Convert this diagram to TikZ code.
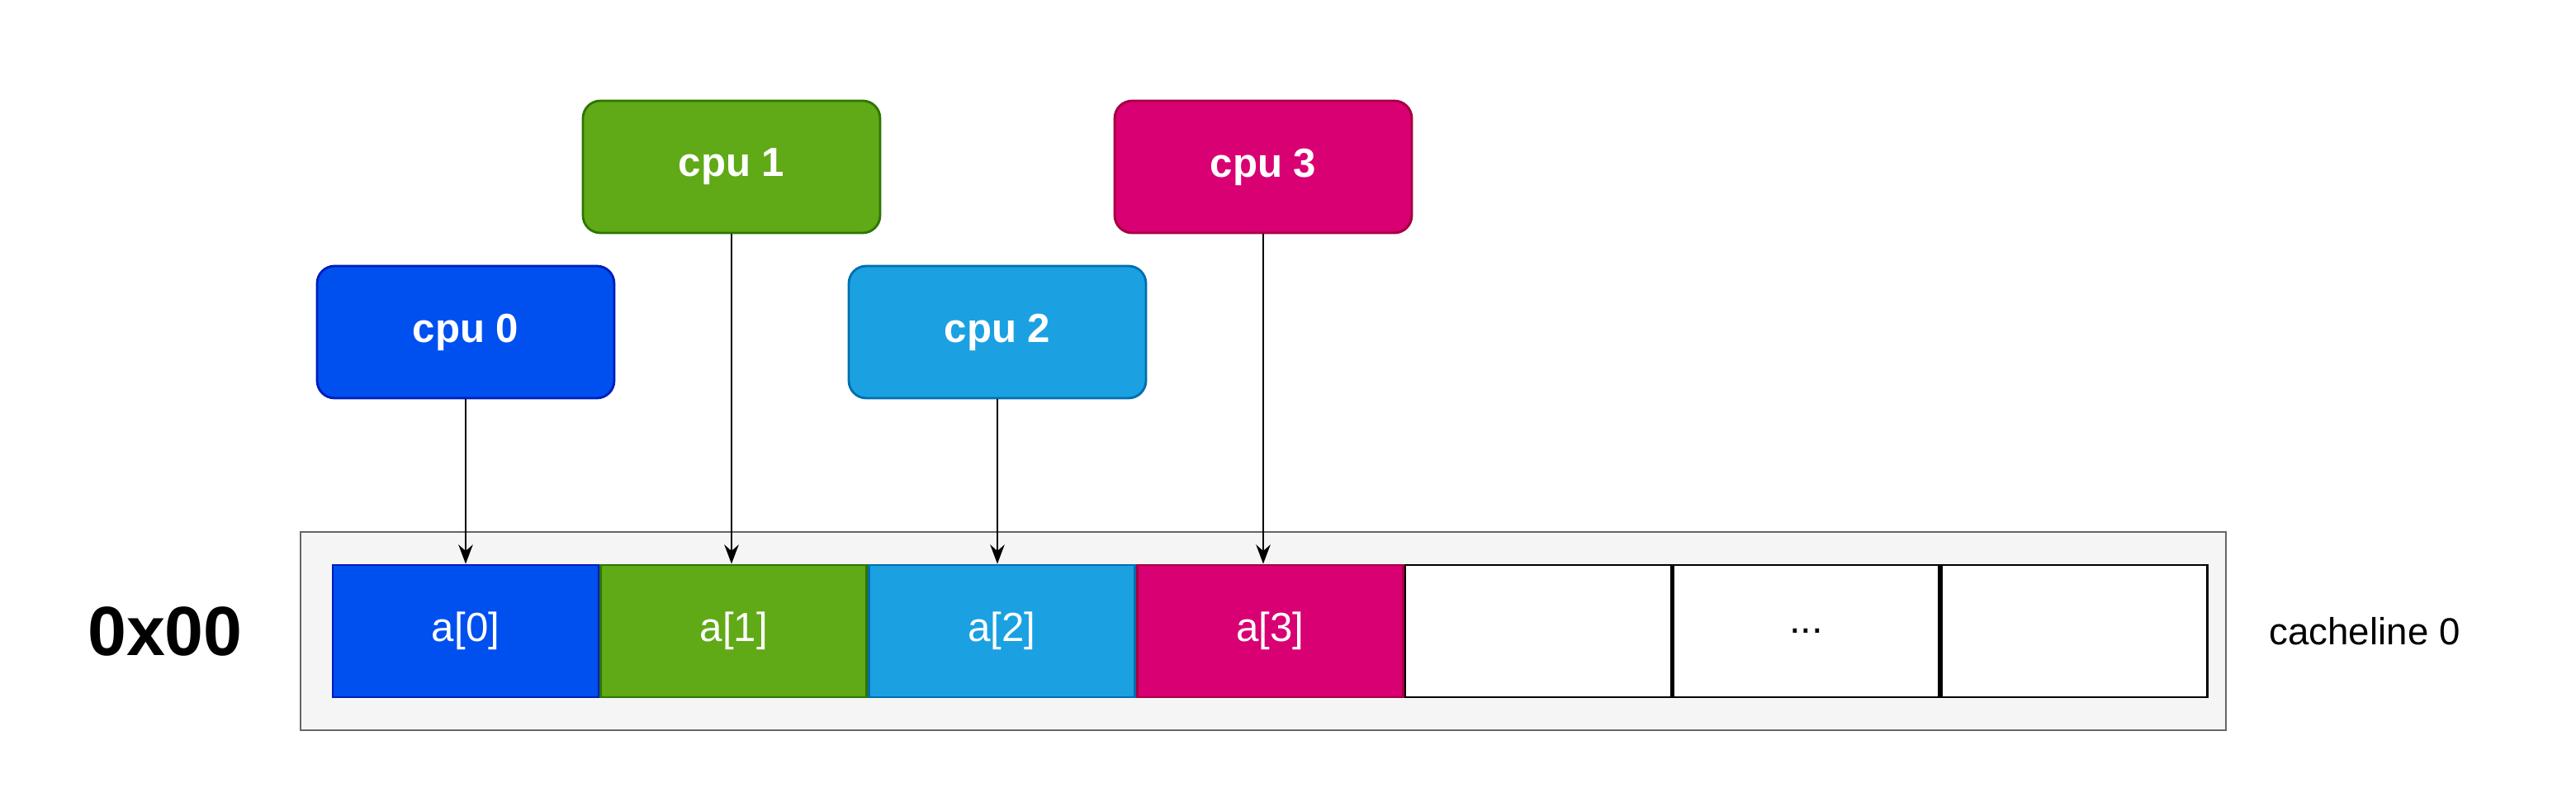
\documentclass[tikz,border=0pt]{standalone}
\usepackage{fontspec}
\setmainfont{Liberation Sans}
\usetikzlibrary{positioning,arrows.meta}
\definecolor{cpublue}{HTML}{0050EF}
\definecolor{cpublueD}{HTML}{001DBC}
\definecolor{cpugreen}{HTML}{60A917}
\definecolor{cpugreenD}{HTML}{2D7600}
\definecolor{cpucyan}{HTML}{1BA1E2}
\definecolor{cpucyanD}{HTML}{006EAF}
\definecolor{cpupink}{HTML}{D80073}
\definecolor{cpupinkD}{HTML}{A50040}
\tikzset{
  cpu/.style={draw, rounded corners=6pt, line width=0.8pt, minimum width=3.6cm,
    minimum height=1.6cm, text=white, font=\fontsize{14}{16}\selectfont\bfseries},
  cell/.style={draw, line width=0.8pt, minimum width=3.22cm, minimum height=1.6cm,
    inner sep=0pt, font=\fontsize{14}{16}\selectfont},
}
\begin{document}
\begin{tikzpicture}[x=0.02cm,y=-0.02cm,>=Stealth]
        \useasboundingbox (0,0) rectangle (1560,480);

        % Cache line frame
        \draw[gray!80!black, fill=gray!8, line width=0.8pt] (182,322) rectangle (1348,442);

        % Cells
        \node[cell, fill=cpublue, draw=cpublueD, text=white] (a0) at (282,382) {a[0]};
        \node[cell, fill=cpugreen, draw=cpugreenD, text=white, right=0pt of a0] (a1) {a[1]};
        \node[cell, fill=cpucyan, draw=cpucyanD, text=white, right=0pt of a1] (a2) {a[2]};
        \node[cell, fill=cpupink, draw=cpupinkD, text=white, right=0pt of a2] (a3) {a[3]};
        \node[cell, fill=white, right=0pt of a3] (a4) {};
        \node[cell, fill=white, right=0pt of a4] (a5) {...};
        \node[cell, fill=white, right=0pt of a5] (a6) {};

        % Labels
        \node[font=\fontsize{24}{28}\selectfont\bfseries] (addr) at (100,382) {0x00};
        \node[font=\fontsize{13}{15}\selectfont] (line) at (1432,382) {cacheline 0};

        % CPUs
        \node[cpu, fill=cpublue, draw=cpublueD] (c0) at (282,201) {cpu 0};
        \node[cpu, fill=cpugreen, draw=cpugreenD] (c1) at (443,101) {cpu 1};
        \node[cpu, fill=cpucyan, draw=cpucyanD] (c2) at (604,201) {cpu 2};
        \node[cpu, fill=cpupink, draw=cpupinkD] (c3) at (765,101) {cpu 3};

        % Accesses
        \foreach \i in {0,...,3}
          \draw[->, line width=0.8pt] (c\i.south) -- (c\i.south |- a\i.north);
\end{tikzpicture}
\end{document}
